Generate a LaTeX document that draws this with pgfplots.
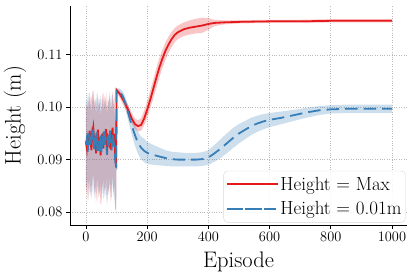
\documentclass[border=0pt]{standalone}
\usepackage{pgfplots}
\pgfplotsset{compat=1.18}
\usepgfplotslibrary{fillbetween}
\usepackage{pgfplotstable}
\definecolor{cred}{HTML}{E41A1C}
\definecolor{cblue}{HTML}{377EB8}

\pgfplotstableread{
x m lo hi
0 0.0935 0.0850 0.1010
3 0.0922 0.0835 0.0995
6 0.0948 0.0870 0.1025
9 0.0931 0.0820 0.1000
12 0.0955 0.0865 0.1030
15 0.0940 0.0845 0.1015
18 0.0918 0.0825 0.0990
21 0.0952 0.0860 0.1028
24 0.0962 0.0875 0.1032
27 0.0930 0.0830 0.1005
30 0.0945 0.0855 0.1020
33 0.0912 0.0815 0.0985
36 0.0938 0.0840 0.1012
39 0.0957 0.0868 0.1030
42 0.0925 0.0828 0.0998
45 0.0943 0.0850 0.1018
48 0.0908 0.0812 0.0982
51 0.0936 0.0838 0.1010
54 0.0950 0.0858 0.1026
57 0.0921 0.0822 0.0995
60 0.0947 0.0852 0.1022
63 0.0929 0.0832 0.1003
66 0.0958 0.0870 0.1031
69 0.0915 0.0818 0.0990
72 0.0940 0.0845 0.1015
75 0.0933 0.0836 0.1008
78 0.0952 0.0860 0.1027
81 0.0919 0.0820 0.0993
84 0.0944 0.0848 0.1019
87 0.0961 0.0872 0.1030
90 0.0926 0.0830 0.1000
93 0.0949 0.0855 0.1024
96 0.0905 0.0808 0.0980
99 0.0885 0.0800 0.0975
100 0.1033 0.1028 0.1036
110 0.1026 0.1018 0.1032
120 0.1016 0.1007 0.1024
130 0.1005 0.0995 0.1014
140 0.0992 0.0982 0.1002
150 0.0978 0.0968 0.0989
160 0.0968 0.0958 0.0979
170 0.0964 0.0954 0.0975
180 0.0966 0.0955 0.0979
190 0.0978 0.0965 0.0993
200 0.0995 0.0980 0.1011
210 0.1014 0.0997 0.1031
220 0.1035 0.1017 0.1053
230 0.1056 0.1037 0.1074
240 0.1076 0.1057 0.1094
250 0.1093 0.1075 0.1110
260 0.1108 0.1091 0.1124
270 0.1120 0.1104 0.1135
280 0.1130 0.1115 0.1144
290 0.1138 0.1124 0.1151
300 0.1143 0.1130 0.1156
320 0.1149 0.1136 0.1162
340 0.1152 0.1139 0.1166
360 0.1154 0.1141 0.1169
380 0.1156 0.1142 0.1171
400 0.1159 0.1148 0.1170
420 0.1161 0.1155 0.1167
450 0.1162 0.1158 0.1166
500 0.1163 0.1160 0.1166
600 0.1164 0.1161 0.1167
700 0.1164 0.1161 0.1167
800 0.1165 0.1162 0.1168
900 0.1165 0.1162 0.1168
1000 0.1165 0.1162 0.1168
}\redtab

\pgfplotstableread{
x m lo hi
0 0.0928 0.0845 0.1005
3 0.0940 0.0850 0.1018
6 0.0915 0.0822 0.0992
9 0.0950 0.0862 0.1027
12 0.0936 0.0840 0.1012
15 0.0924 0.0832 0.1000
18 0.0946 0.0856 0.1022
21 0.0932 0.0836 0.1008
24 0.0958 0.0870 0.1032
27 0.0920 0.0826 0.0996
30 0.0941 0.0848 0.1016
33 0.0930 0.0834 0.1006
36 0.0952 0.0862 0.1028
39 0.0917 0.0820 0.0994
42 0.0939 0.0845 0.1014
45 0.0927 0.0830 0.1002
48 0.0948 0.0858 0.1024
51 0.0912 0.0815 0.0988
54 0.0935 0.0840 0.1010
57 0.0955 0.0866 0.1030
60 0.0923 0.0828 0.0998
63 0.0944 0.0850 0.1020
66 0.0931 0.0835 0.1006
69 0.0909 0.0812 0.0985
72 0.0946 0.0854 0.1022
75 0.0926 0.0830 0.1001
78 0.0957 0.0868 0.1031
81 0.0934 0.0838 0.1010
84 0.0918 0.0822 0.0993
87 0.0949 0.0858 0.1025
90 0.0938 0.0842 0.1013
93 0.0922 0.0826 0.0997
96 0.0895 0.0805 0.0975
99 0.0890 0.0802 0.0972
100 0.1033 0.1028 0.1036
110 0.1030 0.1024 0.1036
120 0.1022 0.1013 0.1031
130 0.1006 0.0994 0.1018
140 0.0985 0.0970 0.1000
150 0.0965 0.0947 0.0983
160 0.0947 0.0927 0.0967
170 0.0932 0.0911 0.0953
180 0.0923 0.0901 0.0944
190 0.0917 0.0895 0.0940
200 0.0913 0.0892 0.0934
220 0.0909 0.0890 0.0928
240 0.0906 0.0889 0.0923
260 0.0903 0.0888 0.0918
280 0.0901 0.0887 0.0915
300 0.0900 0.0887 0.0914
320 0.0900 0.0887 0.0913
340 0.0900 0.0887 0.0913
360 0.0900 0.0887 0.0913
380 0.0901 0.0888 0.0914
400 0.0904 0.0890 0.0918
420 0.0912 0.0896 0.0928
440 0.0921 0.0903 0.0939
460 0.0931 0.0912 0.0950
480 0.0941 0.0922 0.0960
500 0.0950 0.0931 0.0968
520 0.0957 0.0939 0.0974
540 0.0964 0.0947 0.0980
560 0.0969 0.0953 0.0984
580 0.0973 0.0958 0.0987
600 0.0976 0.0962 0.0989
640 0.0980 0.0968 0.0992
680 0.0985 0.0974 0.0995
720 0.0990 0.0980 0.0999
760 0.0994 0.0985 0.1002
800 0.0996 0.0988 0.1004
850 0.0997 0.0989 0.1005
900 0.0997 0.0989 0.1005
1000 0.0997 0.0989 0.1005
}\bluetab

\begin{document}
\begin{tikzpicture}
\begin{axis}[
  scale only axis, width=337pt, height=219pt,
  xmin=-52, xmax=1049, ymin=0.07752, ymax=0.11933,
  axis x line*=bottom, axis y line*=left,
  axis line style={-, line width=0.8pt, black},
  xtick={0,200,400,600,800,1000},
  ytick={0.08,0.09,0.10,0.11},
  xticklabel style={/pgf/number format/1000 sep={}},
  yticklabel style={/pgf/number format/.cd, fixed, fixed zerofill, precision=2},
  scaled y ticks=false,
  tick align=outside, major tick length=4pt,
  tick style={black, line width=0.8pt},
  grid=major, grid style={dotted, gray!55, line width=0.6pt},
  ticklabel style={font=\fontsize{15}{17}\selectfont},
  xlabel={Episode}, ylabel={Height (m)},
  label style={font=\fontsize{22.5}{26}\selectfont},
  x label style={at={(axis description cs:0.5,-0.169)}, anchor=center},
  y label style={at={(axis description cs:-0.163,0.5)}, anchor=center},
  legend style={at={(0.996,0.011)}, anchor=south east, draw=gray!30,
    rounded corners=4pt, fill=white, fill opacity=0.85, text opacity=1,
    font=\fontsize{19}{22}\selectfont, inner xsep=2pt, inner ysep=4pt,
    row sep=6pt},
  legend cell align=left,
  legend image code/.code={\path (-4pt,0pt) -- (47pt,0pt);
    \draw[#1] (0pt,0pt) -- (37pt,0pt);},
]
\addplot[name path=ru, draw=none, forget plot] table[x=x, y=hi] {\redtab};
\addplot[name path=rl, draw=none, forget plot] table[x=x, y=lo] {\redtab};
\addplot[fill=cred, fill opacity=0.25, draw=none, forget plot] fill between[of=ru and rl];
\addplot[name path=bu, draw=none, forget plot] table[x=x, y=hi] {\bluetab};
\addplot[name path=bl, draw=none, forget plot] table[x=x, y=lo] {\bluetab};
\addplot[fill=cblue, fill opacity=0.25, draw=none, forget plot] fill between[of=bu and bl];
\addplot[cred, line width=1.8pt] table[x=x, y=m] {\redtab};
\addlegendentry{Height = Max}
\addplot[cblue, line width=1.8pt, dash pattern=on 12.5pt off 6pt] table[x=x, y=m] {\bluetab};
\addlegendentry{Height = 0.01m}
\end{axis}
\pgfresetboundingbox
\path (current axis.south west) ++(-70pt,-54pt) coordinate (bbA);
\path (current axis.north east) ++(8pt,6pt) coordinate (bbB);
\useasboundingbox (bbA) rectangle (bbB);
\end{tikzpicture}
\end{document}
